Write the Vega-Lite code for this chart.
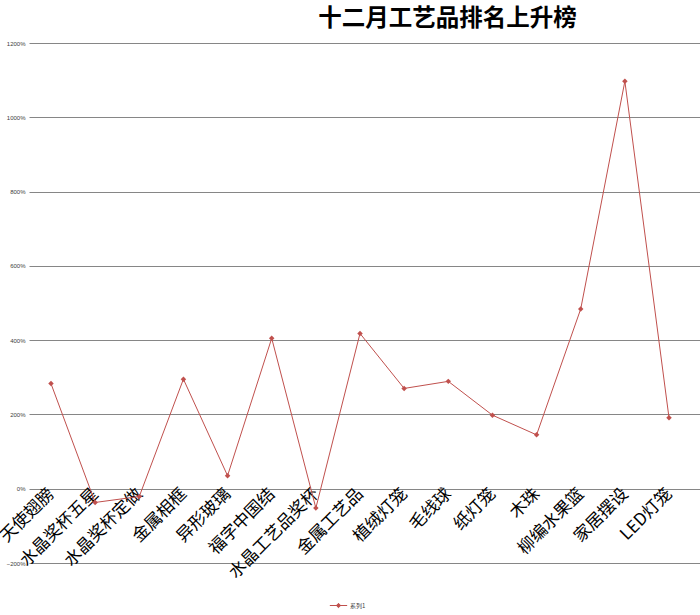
{
  "$schema": "https://vega.github.io/schema/vega-lite/v6.json",
  "autosize": "none",
  "width": 671,
  "height": 520,
  "padding": {"left": 29, "top": 43, "right": 0, "bottom": 52},
  "background": "white",
  "title": {
    "text": "十二月工艺品排名上升榜",
    "font": "Noto Sans CJK SC",
    "fontSize": 23.5,
    "fontWeight": "bold",
    "color": "#000000",
    "anchor": "middle",
    "dx": 83,
    "offset": 10
  },
  "config": {"view": {"stroke": null}},
  "data": {
    "values": [
      {"item": "天使翅膀", "value": 2.83, "series": "系列1"},
      {"item": "水晶奖杯五星", "value": -0.37, "series": "系列1"},
      {"item": "水晶奖杯定做", "value": -0.21, "series": "系列1"},
      {"item": "金属相框", "value": 2.95, "series": "系列1"},
      {"item": "异形玻璃", "value": 0.35, "series": "系列1"},
      {"item": "福字中国结", "value": 4.05, "series": "系列1"},
      {"item": "水晶工艺品奖杯", "value": -0.52, "series": "系列1"},
      {"item": "金属工艺品", "value": 4.18, "series": "系列1"},
      {"item": "植绒灯笼", "value": 2.70, "series": "系列1"},
      {"item": "毛线球", "value": 2.89, "series": "系列1"},
      {"item": "纸灯笼", "value": 1.98, "series": "系列1"},
      {"item": "木珠", "value": 1.45, "series": "系列1"},
      {"item": "柳编水果篮", "value": 4.84, "series": "系列1"},
      {"item": "家居摆设", "value": 10.97, "series": "系列1"},
      {"item": "LED灯笼", "value": 1.91, "series": "系列1"}
    ]
  },
  "mark": {
    "type": "line",
    "strokeWidth": 1,
    "point": {"shape": "diamond", "size": 30, "filled": true, "color": "#C0504D"}
  },
  "encoding": {
    "x": {
      "field": "item",
      "type": "nominal",
      "sort": null,
      "scale": {"type": "point", "padding": 0.6, "align": 0.415},
      "axis": {
        "title": null,
        "offset": -74,
        "domain": false,
        "ticks": false,
        "grid": false,
        "labelAngle": -45,
        "labelAlign": "right",
        "labelBaseline": "middle",
        "labelPadding": 2,
        "labelFont": "Noto Sans CJK SC",
        "labelFontSize": 17,
        "labelColor": "#000000",
        "labelOverlap": false,
        "labelLimit": 0
      }
    },
    "y": {
      "field": "value",
      "type": "quantitative",
      "scale": {"domain": [-2, 12], "nice": false, "zero": false},
      "axis": {
        "title": null,
        "values": [-2, 0, 2, 4, 6, 8, 10, 12],
        "format": ".0%",
        "domain": false,
        "ticks": false,
        "grid": true,
        "gridColor": "#868686",
        "gridWidth": 1,
        "labelFontSize": 6,
        "labelColor": "#404040",
        "labelFont": "Liberation Sans",
        "labelPadding": 4
      }
    },
    "color": {
      "field": "series",
      "type": "nominal",
      "scale": {"range": ["#C0504D"]},
      "legend": {
        "title": null,
        "orient": "none",
        "legendX": 300,
        "legendY": 553,
        "symbolType": "M-1,0H1M-0.25,0L0,-0.25L0.25,0L0,0.25Z",
        "symbolSize": 300,
        "symbolStrokeWidth": 1,
        "symbolFillColor": "#C0504D",
        "labelOffset": 2,
        "labelFontSize": 6,
        "labelColor": "#404040",
        "labelFont": "Noto Sans CJK SC"
      }
    }
  }
}
